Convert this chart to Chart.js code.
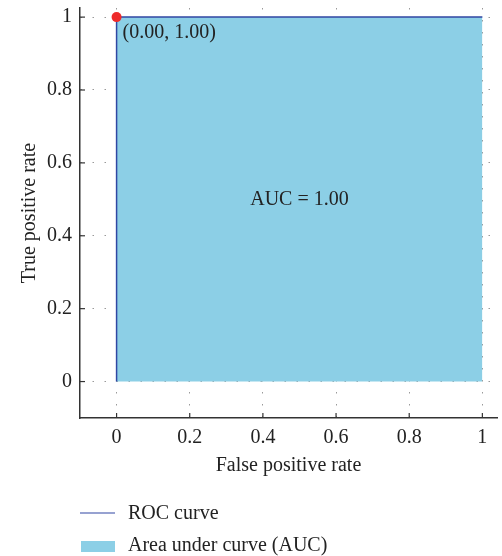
<!DOCTYPE html>
<html>
<head>
<meta charset="utf-8">
<script src="https://cdn.jsdelivr.net/npm/chart.js@4.4.0/dist/chart.umd.min.js"></script>
<style>
  html, body { margin: 0; padding: 0; background: #fff; }
  #wrap { width: 502px; height: 556px; }
</style>
</head>
<body>
<div id="wrap"><canvas id="roc" width="502" height="556"></canvas></div>
<script>
// Datos
const rocX = [0, 0, 1];
const rocY = [0, 1, 1];
const areaX = [0, 0, 1, 1];
const areaY = [0, 1, 1, 0];
const puntoOptimo = [0.0, 1.0];
const auc = 1.0;
const ticksX = [0, 0.2, 0.4, 0.6, 0.8, 1];
const ticksY = [0, 0.2, 0.4, 0.6, 0.8, 1];

const fuente = "'Liberation Serif', 'DejaVu Serif', serif";
const colorLinea = "#3047a3";
const colorArea = "#8ccfe6";

const puntos = (xs, ys) => xs.map((x, i) => ({ x, y: ys[i] }));

// ticks hacia dentro, etiquetas y leyenda
const extras = {
  id: "extras",
  afterDraw(chart) {
    const { ctx, scales } = chart;
    const sx = scales.x, sy = scales.y;
    ctx.save();
    ctx.strokeStyle = "#333";
    ctx.lineWidth = 1.2;
    ticksX.forEach((v) => {
      const px = sx.getPixelForValue(v);
      ctx.beginPath();
      ctx.moveTo(px, sy.bottom);
      ctx.lineTo(px, sy.bottom - 5);
      ctx.stroke();
    });
    ticksY.forEach((v) => {
      const py = sy.getPixelForValue(v);
      ctx.beginPath();
      ctx.moveTo(sx.left, py);
      ctx.lineTo(sx.left + 5, py);
      ctx.stroke();
    });

    ctx.fillStyle = "#222";
    ctx.font = "20px " + fuente;
    ctx.textBaseline = "top";
    ctx.textAlign = "left";
    const px = sx.getPixelForValue(puntoOptimo[0]);
    const py = sy.getPixelForValue(puntoOptimo[1]);
    ctx.fillText(
      "(" + puntoOptimo[0].toFixed(2) + ", " + puntoOptimo[1].toFixed(2) + ")",
      px + 6, py + 6
    );
    ctx.textAlign = "center";
    ctx.textBaseline = "middle";
    ctx.fillText("AUC = " + auc.toFixed(2), sx.getPixelForValue(0.5), sy.getPixelForValue(0.5));

    // leyenda
    ctx.strokeStyle = colorLinea;
    ctx.lineWidth = 1.2;
    ctx.beginPath();
    ctx.moveTo(80, 513);
    ctx.lineTo(115, 513);
    ctx.stroke();
    ctx.fillStyle = colorArea;
    ctx.fillRect(81, 541, 34, 11);
    ctx.fillStyle = "#222";
    ctx.textAlign = "left";
    ctx.fillText("ROC curve", 128, 514);
    ctx.fillText("Area under curve (AUC)", 128, 546);
    ctx.restore();
  },
};

const ctx = document.getElementById("roc");
new Chart(ctx, {
  type: "scatter",
  data: {
    datasets: [
      {
        label: "Punto",
        data: [{ x: puntoOptimo[0], y: puntoOptimo[1] }],
        pointRadius: 5,
        pointBackgroundColor: "#ee2b2b",
        pointBorderWidth: 0,
        showLine: false,
      },
      {
        label: "ROC curve",
        data: puntos(rocX, rocY),
        showLine: true,
        borderColor: colorLinea,
        borderWidth: 1.5,
        pointRadius: 0,
        fill: false,
      },
      {
        label: "Area under curve (AUC)",
        data: puntos(areaX, areaY),
        showLine: true,
        borderWidth: 0,
        borderColor: "rgba(0,0,0,0)",
        backgroundColor: colorArea,
        pointRadius: 0,
        fill: "origin",
      },
    ],
  },
  options: {
    responsive: false,
    animation: false,
    events: [],
    layout: { padding: { top: 8, right: 0, left: 18, bottom: 78 } },
    plugins: { legend: { display: false }, tooltip: { enabled: false } },
    scales: {
      x: {
        type: "linear",
        min: -0.1,
        max: 1.04,
        afterBuildTicks: (s) => { s.ticks = ticksX.map((v) => ({ value: v })); },
        afterFit: (s) => {
          s.height = 60;
          s.paddingLeft = 0;
          s.paddingRight = 0;
        },
        ticks: {
          color: "#222",
          font: { family: fuente, size: 20 },
          padding: 8,
          maxRotation: 0,
          callback: (v) => String(+v.toFixed(1)),
        },
        grid: { color: "#9a9a9a", lineWidth: 1, drawTicks: false },
        border: { display: true, color: "#333", width: 1.5, dash: [1.5, 10.5] },
        title: {
          display: true,
          text: "False positive rate",
          color: "#222",
          font: { family: fuente, size: 20 },
          padding: { top: 4, bottom: 0 },
        },
      },
      y: {
        type: "linear",
        min: -0.1,
        max: 1.025,
        afterBuildTicks: (s) => { s.ticks = ticksY.map((v) => ({ value: v })); },
        afterFit: (s) => {
          s.width = 62;
          s.paddingTop = 0;
          s.paddingBottom = 0;
        },
        ticks: {
          color: "#222",
          font: { family: fuente, size: 20 },
          padding: 8,
          callback: (v) => String(+v.toFixed(1)),
        },
        grid: { color: "#9a9a9a", lineWidth: 1, drawTicks: false },
        border: { display: true, color: "#333", width: 1.5, dash: [1.5, 10.5] },
        title: {
          display: true,
          text: "True positive rate",
          color: "#222",
          font: { family: fuente, size: 20 },
          padding: { top: 0, bottom: 0 },
        },
      },
    },
  },
  plugins: [extras],
});
</script>
</body>
</html>
